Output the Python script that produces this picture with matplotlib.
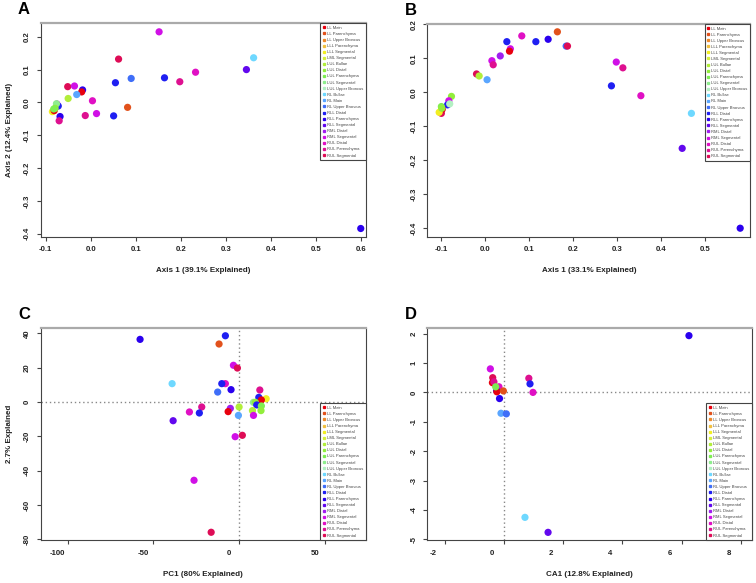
import matplotlib
matplotlib.use("Agg")
import matplotlib.pyplot as plt
import matplotlib.transforms as mtransforms
from matplotlib.lines import Line2D

plt.rcParams["font.family"] = ["Liberation Sans", "DejaVu Sans"]

# legend groups and their colours
groups = [
    "LL Main", "LL Parenchyma", "LL Upper Broncus", "LLL Parenchyma",
    "LLL Segmental", "LML Segmental", "LUL Bullae", "LUL Distal",
    "LUL Parenchyma", "LUL Segmental", "LUL Upper Broncus", "RL Bullae",
    "RL Main", "RL Upper Broncus", "RLL Distal", "RLL Parenchyma",
    "RLL Segmental", "RML Distal", "RML Segmental", "RUL Distal",
    "RUL Parenchyma", "RUL Segmental",
]
group_colors = [
    "#e8000e", "#e2521c", "#ee8a2c", "#f2c040", "#f2ee22", "#d6f03c",
    "#b2ee3a", "#92ee3c", "#7eee52", "#8eee8e", "#b2f0c2", "#6ed8ff",
    "#5aa6ff", "#3f6ef8", "#1f1ff2", "#2a00ee", "#6208ee", "#a01ef0",
    "#d010e6", "#e010c4", "#de1090", "#de0c56",
]

# panel A: PCoA
a_x = [0.152, 0.062, 0.362, 0.346, 0.233, 0.198, 0.164, 0.090, 0.055,
       -0.051, -0.036, -0.018, -0.020, -0.031, -0.050, 0.004, 0.082,
       -0.012, 0.013, 0.051, -0.068, -0.070, 0.600,
       -0.075, -0.072, -0.085, -0.081, -0.076, -0.079, -0.082]
a_y = [0.215, 0.132, 0.136, 0.100, 0.092, 0.063, 0.075, 0.073, 0.060,
       0.048, 0.050, 0.038, 0.032, 0.024, 0.012, 0.005, -0.015,
       -0.040, -0.034, -0.041, -0.043, -0.056, -0.384,
       -0.005, -0.011, -0.028, -0.025, -0.004, -0.018, -0.020]
a_g = ["RML Segmental", "RUL Segmental", "RL Bullae", "RLL Segmental",
       "RUL Distal", "RUL Parenchyma", "RLL Distal", "RL Upper Broncus",
       "RLL Distal", "RUL Segmental", "RML Segmental", "RLL Parenchyma",
       "LL Main", "RL Main", "LUL Bullae", "RUL Distal", "LL Parenchyma",
       "RUL Parenchyma", "RML Segmental", "RLL Distal", "RLL Parenchyma",
       "RUL Parenchyma", "RLL Parenchyma",
       "RML Segmental", "RLL Distal", "LLL Segmental", "LL Main",
       "LUL Segmental", "LUL Distal", "LUL Parenchyma"]

# panel B: PCoA
b_x = [0.164, 0.083, 0.049, 0.115, 0.143, 0.184, 0.187, 0.057, 0.055,
       0.034, 0.015, 0.018, -0.020, -0.014, 0.004, 0.298, 0.313, 0.287,
       0.354, 0.469, 0.448, 0.580,
       -0.077, -0.083, -0.086, -0.081, -0.100, -0.098, -0.105, -0.100,
       -0.099]
b_y = [0.178, 0.166, 0.149, 0.149, 0.156, 0.136, 0.136, 0.128, 0.121,
       0.107, 0.093, 0.081, 0.054, 0.048, 0.037, 0.089, 0.072, 0.019,
       -0.010, -0.062, -0.165, -0.400,
       -0.012, -0.025, -0.037, -0.034, -0.062, -0.050, -0.059, -0.042,
       -0.047]
b_g = ["LL Parenchyma", "RUL Distal", "RLL Distal", "RLL Distal",
       "RLL Parenchyma", "RL Upper Broncus", "RUL Segmental",
       "RML Segmental", "LL Main", "RML Distal", "RML Segmental",
       "RUL Parenchyma", "RUL Segmental", "LUL Bullae", "RL Main",
       "RML Segmental", "RUL Parenchyma", "RLL Distal", "RUL Distal",
       "RL Bullae", "RLL Segmental", "RLL Parenchyma",
       "LUL Distal", "RML Segmental", "RLL Distal", "LUL Upper Broncus",
       "RUL Segmental", "LL Main", "LLL Segmental", "LUL Parenchyma",
       "LUL Distal"]

# panel C: PCA
c_x = [-57.8, -8.0, -11.7, -3.3, -1.0, -39.1, -8.0, -10.1, -12.5, -4.7,
       12.1, 11.5, 15.8, 13.0, 8.4, 9.5, 10.3, 13.0, 12.8, 7.8, 8.4, 0.0,
       -0.4, -5.1, -6.4, -21.8, -29.0, -23.2, -38.5, -2.3, 1.9, -26.3,
       -16.3]
c_y = [36.5, 38.6, 33.8, 21.4, 19.8, 10.7, 10.7, 10.7, 5.8, 7.2,
       7.0, 2.7, 1.9, 1.2, -0.2, -0.2, -1.7, -2.3, -5.0, -5.0, -7.8, -2.9,
       -7.8, -3.7, -5.6, -2.9, -5.8, -6.4, -10.9, -20.2, -19.4, -45.6,
       -75.9]
c_g = ["RLL Parenchyma", "RLL Distal", "LL Parenchyma", "RML Segmental",
       "RUL Segmental", "RL Bullae", "RUL Distal", "RLL Distal",
       "RL Upper Broncus", "RLL Parenchyma", "RUL Parenchyma", "RLL Distal",
       "LLL Segmental", "LL Main", "LUL Segmental", "LUL Distal",
       "RLL Distal", "LUL Parenchyma", "LUL Distal", "LUL Bullae",
       "RML Segmental", "LUL Bullae", "RL Main", "RML Distal", "LL Main",
       "RUL Parenchyma", "RUL Distal", "RLL Distal", "RLL Segmental",
       "RML Segmental", "RUL Segmental", "RML Segmental", "RUL Segmental"]

# panel D: CA
d_x = [6.25, -0.46, -0.38, -0.39, -0.34, 0.84, 0.88, 0.98, -0.17, -0.25,
       -0.24, -0.02, -0.28, -0.15, -0.10, 0.08, 0.71, 1.49]
d_y = [1.93, 0.80, 0.50, 0.33, 0.36, 0.48, 0.29, 0.00, 0.19, 0.06,
       0.02, 0.05, 0.19, -0.21, -0.71, -0.73, -4.25, -4.76]
d_g = ["RLL Parenchyma", "RML Segmental", "RUL Segmental", "LL Main",
       "RUL Parenchyma", "RUL Parenchyma", "RLL Distal", "RUL Distal",
       "RUL Distal", "RLL Distal", "LL Main", "LL Parenchyma",
       "LUL Parenchyma", "RLL Parenchyma", "RL Main", "RL Upper Broncus",
       "RL Bullae", "RLL Segmental"]

color_of = dict(zip(groups, group_colors))
W, H = 756, 583


def draw_panel(rect, letter, xs, ys, gs, xlim, ylim, xticks, yticks,
               xlabel, ylabel, legend_loc, zero_lines=False, xlab_shift=0):
    ax = fig.add_axes(rect)
    ax.scatter(xs, ys, c=[color_of[g] for g in gs], s=27, linewidths=0,
               zorder=3)
    if zero_lines:
        ax.axhline(0, color="#888888", lw=1, ls=(0, (1, 2)), zorder=1)
        ax.axvline(0, color="#888888", lw=1, ls=(0, (1, 2)), zorder=1)
    ax.set_xlim(*xlim)
    ax.set_ylim(*ylim)
    ax.set_xticks(xticks)
    ax.set_yticks(yticks)
    ax.set_xticklabels([f"{t:g}" if isinstance(t, int) else f"{t:.1f}" for t in xticks])
    ax.set_yticklabels([f"{t:g}" if isinstance(t, int) else f"{t:.1f}" for t in yticks],
                       rotation=90, va="center")
    ax.tick_params(length=3, width=0.8, color="#444444", labelsize=5.6,
                   pad=4)
    for lab in ax.get_xticklabels() + ax.get_yticklabels():
        lab.set_fontweight("bold")
        lab.set_color("#222222")
    if xlab_shift:
        # tick labels sit a little left of their ticks in the original
        off = mtransforms.ScaledTranslation(-xlab_shift / 100, 0, fig.dpi_scale_trans)
        for lab in ax.get_xticklabels():
            lab.set_transform(lab.get_transform() + off)
    for side in ["left", "right", "bottom"]:
        ax.spines[side].set_color("#444444")
        ax.spines[side].set_linewidth(0.8)
    ax.spines["top"].set_color("#aaaaaa")
    ax.spines["top"].set_linewidth(1.6)
    ax.set_xlabel(xlabel, fontsize=5.8, fontweight="bold", labelpad=10,
                  color="#222222")
    ax.set_ylabel(ylabel, fontsize=5.8, fontweight="bold", labelpad=8,
                  color="#222222")

    handles = [Line2D([], [], marker="s", ls="none", color=c, markersize=1.4)
               for c in group_colors]
    anchor = (1, 1) if legend_loc == "upper right" else (1, 0)
    leg = ax.legend(handles, groups, loc=legend_loc, bbox_to_anchor=anchor,
                    borderaxespad=0, fontsize=3.0, handlelength=0.5,
                    handletextpad=0.5, labelspacing=0.5, borderpad=0.6,
                    fancybox=False, framealpha=1, edgecolor="#444444")
    leg.get_frame().set_linewidth(0.8)
    for t in leg.get_texts():
        t.set_color("#444444")

    fig.text(rect[0] - 0.03, rect[1] + rect[3] + 0.01, letter,
             fontsize=12, fontweight="bold", ha="left", va="bottom")
    return ax


fig = plt.figure(figsize=(W / 100, H / 100), dpi=100)

draw_panel([40.7 / W, 1 - 236.7 / H, 325 / W, 213.4 / H], "A",
           a_x, a_y, a_g, (-0.111, 0.611), (-0.409, 0.241),
           [-0.1, 0.0, 0.1, 0.2, 0.3, 0.4, 0.5, 0.6],
           [-0.4, -0.3, -0.2, -0.1, 0.0, 0.1, 0.2],
           "Axis 1 (39.1% Explained)", "Axis 2 (12.4% Explained)",
           "upper right")

draw_panel([427.3 / W, 1 - 236.7 / H, 323 / W, 212.7 / H], "B",
           b_x, b_y, b_g, (-0.132, 0.603), (-0.425, 0.201),
           [-0.1, 0.0, 0.1, 0.2, 0.3, 0.4, 0.5],
           [-0.4, -0.3, -0.2, -0.1, 0.0, 0.1, 0.2],
           "Axis 1 (33.1% Explained)", "", "upper right")

draw_panel([40.7 / W, 1 - 540 / H, 325 / W, 212.3 / H], "C",
           c_x, c_y, c_g, (-115.8, 73.9), (-80.4, 43.3),
           [-100, -50, 0, 50], [-80, -60, -40, -20, 0, 20, 40],
           "PC1 (80% Explained)", "2.7% Explained", "lower right",
           zero_lines=True, xlab_shift=10)

draw_panel([427.3 / W, 1 - 540 / H, 324.7 / W, 212.3 / H], "D",
           d_x, d_y, d_g, (-2.59, 8.38), (-5.02, 2.2),
           [-2, 0, 2, 4, 6, 8], [-5, -4, -3, -2, -1, 0, 1, 2],
           "CA1 (12.8% Explained)", "", "lower right",
           zero_lines=True, xlab_shift=12)

fig.savefig("out.png", dpi=100)
